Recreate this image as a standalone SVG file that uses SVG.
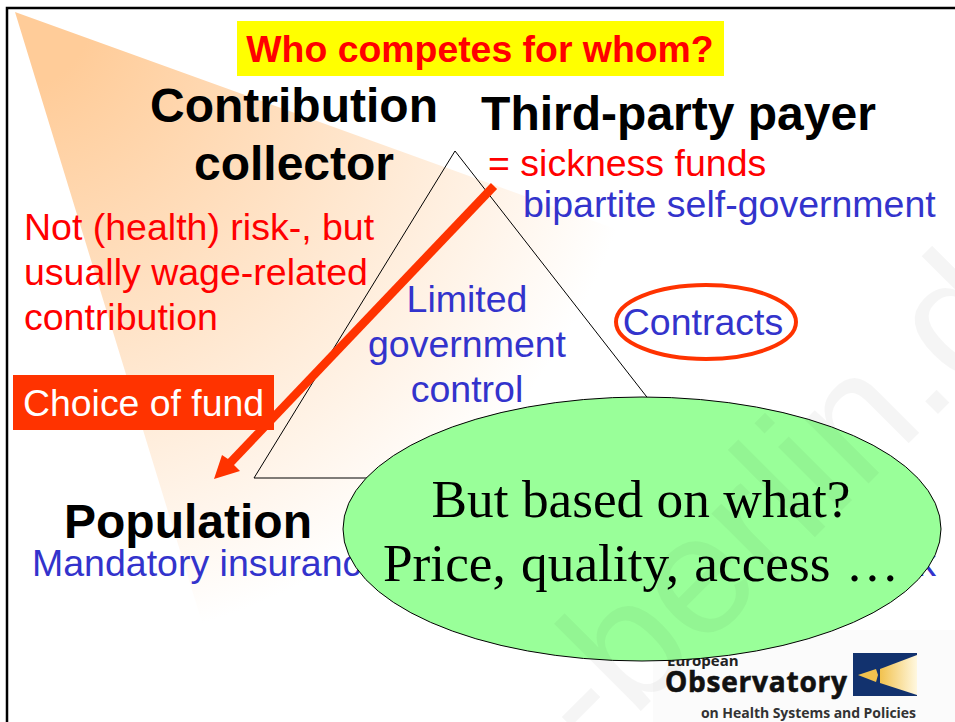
<svg xmlns="http://www.w3.org/2000/svg" width="955" height="722" viewBox="0 0 955 722">
<style>
.s{font-family:"Liberation Sans",Arial,sans-serif}
.h{font-weight:bold;font-size:48px;fill:#000;text-anchor:middle}
.r{font-size:37.5px;fill:#f00}
.b{font-size:37.5px;fill:#3333cc}
.t{font-family:"Liberation Serif","Times New Roman",serif;font-size:53.3px;fill:#000;text-anchor:middle}
.l{font-family:"Open Sans",sans-serif;font-weight:bold}
</style>
<defs>
<radialGradient id="fade" gradientUnits="userSpaceOnUse" cx="15" cy="12" r="640">
<stop offset=".12" stop-color="#ffcc99"/><stop offset="1" stop-color="#ffffff"/>
</radialGradient>
<linearGradient id="flag" x1="0" x2="1" y1="0" y2="0"><stop offset="0" stop-color="#f2c24e"/><stop offset="1" stop-color="#fff8e0"/></linearGradient>
</defs>
<rect width="955" height="722" fill="#fff"/>
<rect x="653" y="630" width="302" height="92" fill="#fbfbfb"/>
<path d="M7 722V8H955" fill="none" stroke="#000" stroke-width="2.5"/>
<polygon points="15,12 660,245 620,360 380,590 310,660 215,665" fill="url(#fade)"/>
<g id="title"><rect x="237" y="21" width="487" height="55" fill="#ff0"/>
<text class="s" x="480" y="62" font-size="37.4" font-weight="bold" fill="#f00" text-anchor="middle">Who competes for whom?</text></g>
<g id="triangle"><polygon points="455,151 254,478 710,478" fill="none" stroke="#000" stroke-width="1"/>
<text class="s b" x="467" y="312" text-anchor="middle">Limited</text>
<text class="s b" x="467" y="357" text-anchor="middle">government</text>
<text class="s b" x="467" y="402" text-anchor="middle">control</text></g>
<g id="collector"><text class="s h" x="294" y="122">Contribution</text><text class="s h" x="294" y="180">collector</text>
<text class="s r" x="24" y="240">Not (health) risk-, but</text>
<text class="s r" x="24" y="285">usually wage-related</text>
<text class="s r" x="24" y="330">contribution</text></g>
<g id="payer"><text class="s h" x="678.500" y="130">Third-party payer</text>
<text class="s r" x="488" y="176">= sickness funds</text>
<text class="s b" x="523" y="217">bipartite self-government</text></g>
<g id="contracts"><ellipse cx="706" cy="322" rx="90" ry="37" fill="none" stroke="#ff3300" stroke-width="4"/>
<text class="s b" x="703" y="335" text-anchor="middle">Contracts</text></g>
<g id="connectors"><line x1="494" y1="186" x2="230" y2="463" stroke="#ff3300" stroke-width="8.5"/>
<polygon points="214,479 222,455 228,459 235,466 240,471" fill="#ff3300"/></g>
<g id="choice"><rect x="13" y="375" width="261" height="55" fill="#ff3300"/>
<text class="s" x="23" y="416" font-size="37.4" fill="#fff">Choice of fund</text></g>
<g id="population"><text class="s h" x="188" y="538">Population</text>
<text class="s b" x="32" y="576">Mandatory insurance</text>
<text class="s b" x="936" y="576" text-anchor="end">k</text></g>
<g id="logo">
<text class="l" x="667" y="666" font-size="15" fill="#222">European</text>
<text class="l" x="665" y="692" font-size="28" fill="#111" stroke="#111" stroke-width=".6" textLength="182">Observatory</text>
<text class="l" x="701" y="718" font-size="14" font-weight="600" fill="#333" textLength="215">on Health Systems and Policies</text>
<rect x="853" y="653" width="64" height="43" fill="#12326e"/>
<polygon points="880,669 917,655 917,695 880,683" fill="url(#flag)"/>
<polygon points="858,675 876,669 878,675 876,682" fill="#f2c24e"/>
</g>
<g id="oval"><ellipse cx="642" cy="529" rx="299" ry="132" fill="#99ff99" stroke="#000" stroke-width="1"/>
<text class="t" x="641" y="517">But based on what?</text>
<text class="t" x="641" y="581" word-spacing="2">Price, quality, access …</text></g>
<g id="watermark"><text x="593" y="759" transform="rotate(-45 593 759)" font-family="'Liberation Sans',sans-serif" font-size="170" fill="#000" fill-opacity=".04">-berlin.d</text></g>
</svg>
